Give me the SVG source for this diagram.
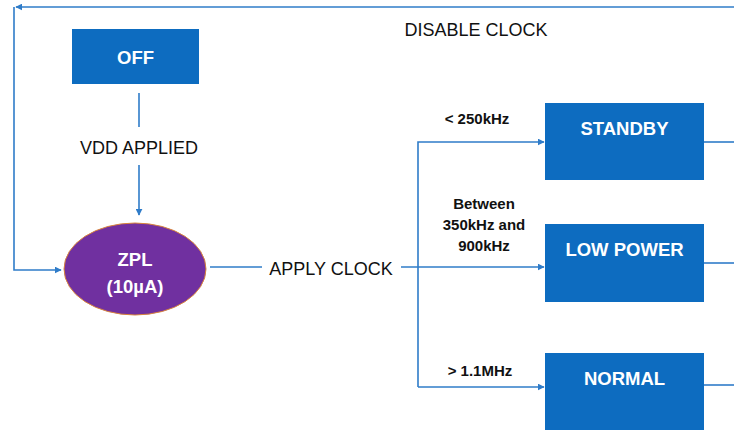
<svg xmlns="http://www.w3.org/2000/svg" width="734" height="431" viewBox="0 0 734 431">
<style>
.box{fill:#0D6CC0;}
.bt{font-family:"Liberation Sans",Arial,sans-serif;font-weight:bold;font-size:18.5px;fill:#fff;text-anchor:middle;}
.lbl{font-family:"Liberation Sans",Arial,sans-serif;font-size:18px;fill:#111;text-anchor:middle;}
.sm{font-family:"Liberation Sans",Arial,sans-serif;font-weight:bold;font-size:15px;fill:#111;text-anchor:middle;}
.ln{stroke:#2F7CC9;stroke-width:1.6;fill:none;}
</style>
<defs>
<marker id="ah" viewBox="0 0 10 10" refX="9" refY="5" markerWidth="7" markerHeight="7" markerUnits="userSpaceOnUse" orient="auto">
<path d="M0,0 L10,5 L0,10 z" fill="#2F7CC9"/>
</marker>
</defs>
<rect width="734" height="431" fill="#fff"/>
<g id="connectors">
<path class="ln" d="M734,7 L16,7" marker-end="url(#ah)"/>
<path class="ln" d="M14,7 L14,270 L61,270" marker-end="url(#ah)"/>
<path class="ln" d="M139,93 L139,127"/>
<path class="ln" d="M139,165 L139,215" marker-end="url(#ah)"/>
<path class="ln" d="M210,267 L262,267"/>
<path class="ln" d="M401,267 L544,267" marker-end="url(#ah)"/>
<path class="ln" d="M418,387 L418,142 L544,142" marker-end="url(#ah)"/>
<path class="ln" d="M418,387 L544,387" marker-end="url(#ah)"/>
<path class="ln" d="M704,142 L734,142"/>
<path class="ln" d="M704,263 L734,263"/>
<path class="ln" d="M704,385 L734,385"/>
</g>
<g id="label-disable"><text class="lbl" x="476" y="36">DISABLE CLOCK</text></g>
<g id="label-vdd"><text class="lbl" x="139" y="154" font-size="19">VDD APPLIED</text></g>
<g id="label-apply"><text class="lbl" x="331" y="275">APPLY CLOCK</text></g>
<g id="label-250"><text class="sm" x="477" y="124">&lt; 250kHz</text></g>
<g id="label-between">
<text class="sm" x="484" y="209">Between</text>
<text class="sm" x="484" y="230">350kHz and</text>
<text class="sm" x="484" y="251">900kHz</text>
</g>
<g id="label-11"><text class="sm" x="480" y="376">&gt; 1.1MHz</text></g>
<g id="node-off">
<rect class="box" x="72" y="29" width="127" height="55"/>
<text class="bt" x="135.5" y="64">OFF</text>
</g>
<g id="node-zpl">
<ellipse cx="135" cy="269" rx="71" ry="46" fill="#7030A0" stroke="#D9843C" stroke-width="1"/>
<text class="bt" x="135" y="266">ZPL</text>
<text class="bt" x="135" y="293">(10µA)</text>
</g>
<g id="node-standby">
<rect class="box" x="545" y="103" width="159" height="77"/>
<text class="bt" x="624.5" y="135">STANDBY</text>
</g>
<g id="node-lowpower">
<rect class="box" x="545" y="224" width="159" height="78"/>
<text class="bt" x="624.5" y="256">LOW POWER</text>
</g>
<g id="node-normal">
<rect class="box" x="545" y="353" width="159" height="77"/>
<text class="bt" x="624.5" y="385">NORMAL</text>
</g>
</svg>
